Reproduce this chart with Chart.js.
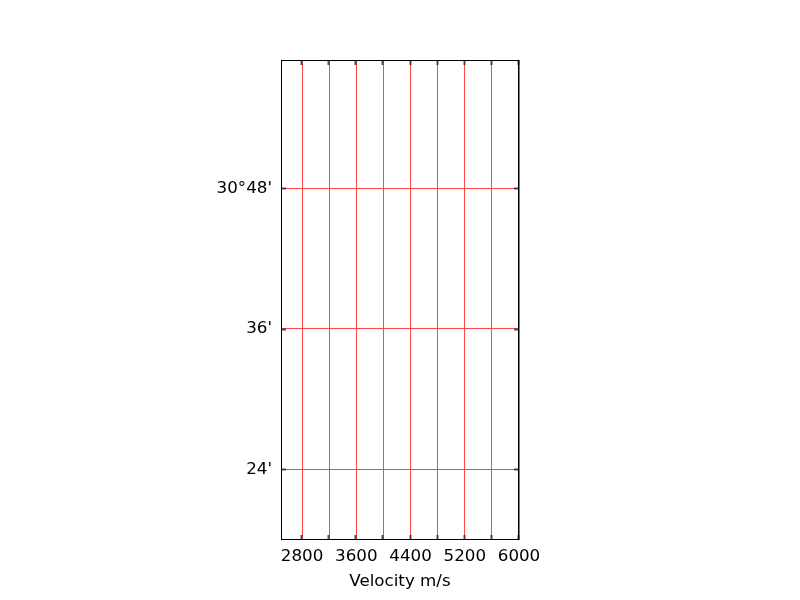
<!DOCTYPE html>
<html>
<head>
<meta charset="utf-8">
<script src="https://cdn.jsdelivr.net/npm/chart.js@4/dist/chart.umd.min.js"></script>
<style>
html,body{margin:0;padding:0;background:#fff;}
#wrap{width:800px;height:600px;}
</style>
</head>
<body>
<div id="wrap"><canvas id="c" width="800" height="600"></canvas></div>
<script>
// Axis ranges (x: velocity m/s, y: latitude in decimal degrees)
const xRange = [2489, 6000];
const yRange = [30.2993, 30.9827];
// Grid / tick positions
const xTicks = [2800, 3200, 3600, 4000, 4400, 4800, 5200, 5600, 6000];
const xLabeled = [2800, 3600, 4400, 5200, 6000];
const yTicks = [30.4, 30.6, 30.8];
const yTickLabels = ["24'", "36'", "30°48'"];
const xTitle = "Velocity m/s";
const points = []; // no data marks in the reference

const FONT = "'DejaVu Sans', sans-serif";
const FS = 16.7;
const gridColor = 'rgb(255,70,70)';

const frame = {
  id: 'frame',
  afterDraw(chart) {
    const ctx = chart.ctx;
    const a = chart.chartArea;
    const xs = chart.scales.x, ys = chart.scales.y;
    ctx.save();
    ctx.strokeStyle = 'rgba(50,50,50,0.85)';
    ctx.lineWidth = 2;
    xTicks.forEach(v => {
      const px = Math.round(xs.getPixelForValue(v)) - 0.5;
      ctx.beginPath();
      ctx.moveTo(px, a.top); ctx.lineTo(px, a.top + 5);
      ctx.moveTo(px, a.bottom); ctx.lineTo(px, a.bottom - 5);
      ctx.stroke();
    });
    yTicks.forEach(v => {
      const py = Math.round(ys.getPixelForValue(v)) + 0.5;
      ctx.beginPath();
      ctx.moveTo(a.left, py); ctx.lineTo(a.left + 5, py);
      ctx.moveTo(a.right, py); ctx.lineTo(a.right - 5, py);
      ctx.stroke();
    });
    ctx.strokeStyle = '#000';
    ctx.lineWidth = 1;
    ctx.strokeRect(Math.round(a.left) + 0.5, Math.round(a.top) + 0.5,
                   Math.round(a.right - a.left) - 1, Math.round(a.bottom - a.top) - 1);
    ctx.restore();
  }
};

new Chart(document.getElementById('c'), {
  type: 'scatter',
  data: { datasets: [{ data: points, pointRadius: 0 }] },
  options: {
    responsive: false,
    animation: false,
    layout: { padding: { top: 60, right: 281, bottom: 0, left: 0 } },
    plugins: { legend: { display: false }, tooltip: { enabled: false } },
    scales: {
      x: {
        type: 'linear',
        min: xRange[0], max: xRange[1],
        afterBuildTicks: s => { s.ticks = xTicks.map(v => ({ value: v })); },
        afterFit: s => { s.height = 60; },
        grid: { color: gridColor, lineWidth: 1, drawTicks: false },
        border: { display: false },
        ticks: {
          padding: 6.5,
          color: '#000',
          font: { family: FONT, size: FS },
          autoSkip: false, maxRotation: 0,
          callback: v => xLabeled.includes(v) ? String(v) : ''
        },
        title: {
          display: true, text: xTitle, color: '#000',
          font: { family: FONT, size: FS },
          padding: { top: 0, bottom: 8.5 }
        }
      },
      y: {
        type: 'linear',
        min: yRange[0], max: yRange[1],
        afterBuildTicks: s => { s.ticks = yTicks.map(v => ({ value: v })); },
        afterFit: s => { s.width = 281; },
        grid: { color: gridColor, lineWidth: 1, drawTicks: false },
        border: { display: false },
        ticks: {
          padding: 9,
          color: '#000',
          font: { family: FONT, size: FS },
          autoSkip: false,
          callback: (v) => {
            const i = yTicks.findIndex(t => Math.abs(t - v) < 1e-6);
            return i >= 0 ? yTickLabels[i] : '';
          }
        }
      }
    }
  },
  plugins: [frame]
});
</script>
</body>
</html>
